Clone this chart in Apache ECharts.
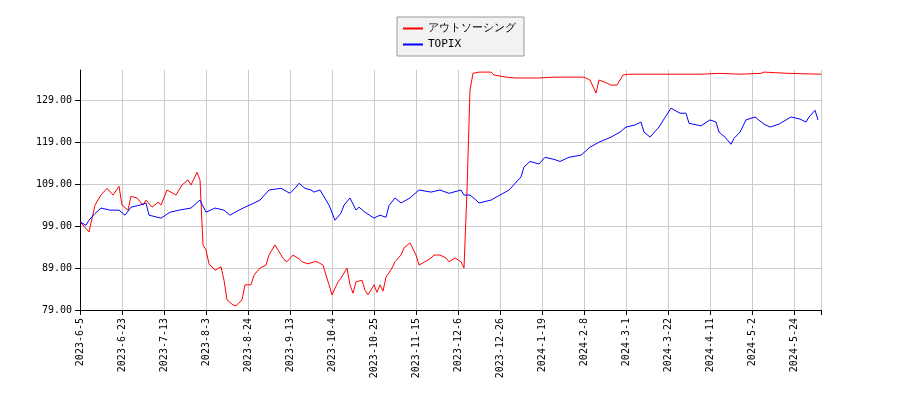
<!DOCTYPE html>
<html><head><meta charset="utf-8">
<script src="https://cdn.jsdelivr.net/npm/echarts@6/dist/echarts.min.js"></script>
<style>html,body{margin:0;background:#fff}#c{width:900px;height:400px}</style>
</head><body><div id="c"></div>
<script>
const tickLabels=["2023-6-5","2023-6-23","2023-7-13","2023-8-3","2023-8-24","2023-9-13","2023-10-4","2023-10-25","2023-11-15","2023-12-6","2023-12-26","2024-1-19","2024-2-8","2024-3-1","2024-3-22","2024-4-11","2024-5-2","2024-5-24"];
const yTicks=[79,89,99,109,119,129];
const redIdx=[0,3,5,7,9,11,13,14,16,17,19,21,22,24,26,27,29,32,34,36,37,39,40,41,42,43,45,47,48,49,51,52,54,55,57,58,60,62,63,65,66,68,69,71,73,74,76,78,79,81,82,83,84,86,87,89,90,91,92,94,95,96,98,99,100,101,102,104,105,107,108,110,112,113,115,117,118,120,122,123,125,127,128,129,130,131,133,137,138,142,145,148,153,158,163,168,170,172,173,175,177,179,181,183,190,207,213,220,227,228,236,247];
const redVal=[100,97.6,104,106.4,108,106.4,108.5,104,102.8,106.1,105.7,104,105.2,103.5,104.7,104,107.6,106.4,108.8,110,108.8,111.8,110,94.5,93.3,90,88.5,89.3,86.1,81.4,80.2,80,81.4,85,85,87.3,89,89.7,92.1,94.5,93.3,91,90.5,92.1,91.2,90.5,90,90.5,90.5,89.7,87.3,85,82.6,85.7,86.6,89,85,83,85.7,86.1,83.7,82.6,85,83.2,85,83.5,86.8,89,90.5,92.1,93.8,95,92.1,89.7,90.5,91.4,92.1,92.1,91.4,90.5,91.4,90.5,89,107.6,131.4,135.4,135.7,135.7,135,134.5,134.3,134.3,134.3,134.5,134.5,134.5,133.8,130.7,133.8,133.3,132.6,132.6,135,135.2,135.2,135.2,135.4,135.2,135.4,135.7,135.4,135.2];
const blueIdx=[0,2,3,5,7,10,13,15,17,20,22,23,27,30,33,37,40,42,45,48,50,53,55,58,60,63,67,70,72,73,75,77,78,80,83,85,87,88,90,92,93,95,98,100,102,103,105,107,110,113,117,120,123,127,128,130,132,133,137,140,143,147,148,150,153,155,158,160,163,167,170,173,177,180,182,185,187,188,190,193,195,197,200,202,203,207,210,212,213,215,217,218,220,222,225,228,230,233,237,240,242,243,245,246];
const blueVal=[100,99.2,100.4,102,103.3,102.8,102.8,101.6,103.5,104,104.5,101.6,100.9,102.3,102.8,103.3,105.2,102.3,103.3,102.8,101.6,102.8,103.5,104.5,105.2,107.6,108,106.8,108.3,109.2,108,107.6,107.1,107.6,104,100.4,102.1,104,105.7,102.8,103.5,102.3,100.9,101.6,101.1,103.9,105.7,104.5,105.7,107.6,107.1,107.6,106.8,107.6,106.4,106.4,105.2,104.5,105.2,106.4,107.6,110.7,113.1,114.4,113.8,115.4,114.9,114.4,115.4,115.9,117.8,119,120.2,121.4,122.6,123.1,123.8,121.4,120.2,122.6,124.9,127.1,125.9,125.9,123.5,122.9,124.3,123.8,121.4,120.2,118.5,119.9,121.4,124.3,125,123.3,122.6,123.3,125,124.5,123.8,125,126.6,124.3];
const pair=(a,b)=>a.map((x,i)=>[x,b[i]]);
const chart=echarts.init(document.getElementById('c'));
const font='DejaVu Sans Mono';
chart.setOption({
  animation:false,
  textStyle:{fontFamily:font},
  legend:{top:17,left:397,orient:'vertical',backgroundColor:'#f2f2f2',borderColor:'#999',borderWidth:1,borderRadius:0,padding:[6,8,6,6],itemGap:5,itemWidth:20,itemHeight:2,
    textStyle:{fontSize:11,color:'#000',fontFamily:font},
    data:[{name:'アウトソーシング',icon:'rect'},{name:'TOPIX',icon:'rect'}]},
  grid:{left:80,right:79,top:70,bottom:90},
  xAxis:{type:'value',min:0,max:247,interval:14,
    axisLine:{onZero:false,lineStyle:{color:'#000'}},axisTick:{lineStyle:{color:'#000'}},
    axisLabel:{rotate:90,fontSize:10,color:'#000',fontFamily:font,formatter:v=>tickLabels[v/14]||''},
    splitLine:{show:true,lineStyle:{color:'#ccc'}}},
  yAxis:{type:'value',min:79,max:136.2,
    axisLine:{show:true,lineStyle:{color:'#000'}},
    axisTick:{show:true,customValues:yTicks,lineStyle:{color:'#000'}},
    axisLabel:{customValues:yTicks,fontSize:10,color:'#000',fontFamily:font,formatter:v=>v.toFixed(2)},
    splitLine:{show:true,lineStyle:{color:'#ccc'}}},
  series:[
    {name:'アウトソーシング',type:'line',data:pair(redIdx,redVal),showSymbol:false,lineStyle:{color:'#ff0000',width:1},itemStyle:{color:'#ff0000'}},
    {name:'TOPIX',type:'line',data:pair(blueIdx,blueVal),showSymbol:false,lineStyle:{color:'#0000ff',width:1},itemStyle:{color:'#0000ff'}}
  ]
});
</script></body></html>
